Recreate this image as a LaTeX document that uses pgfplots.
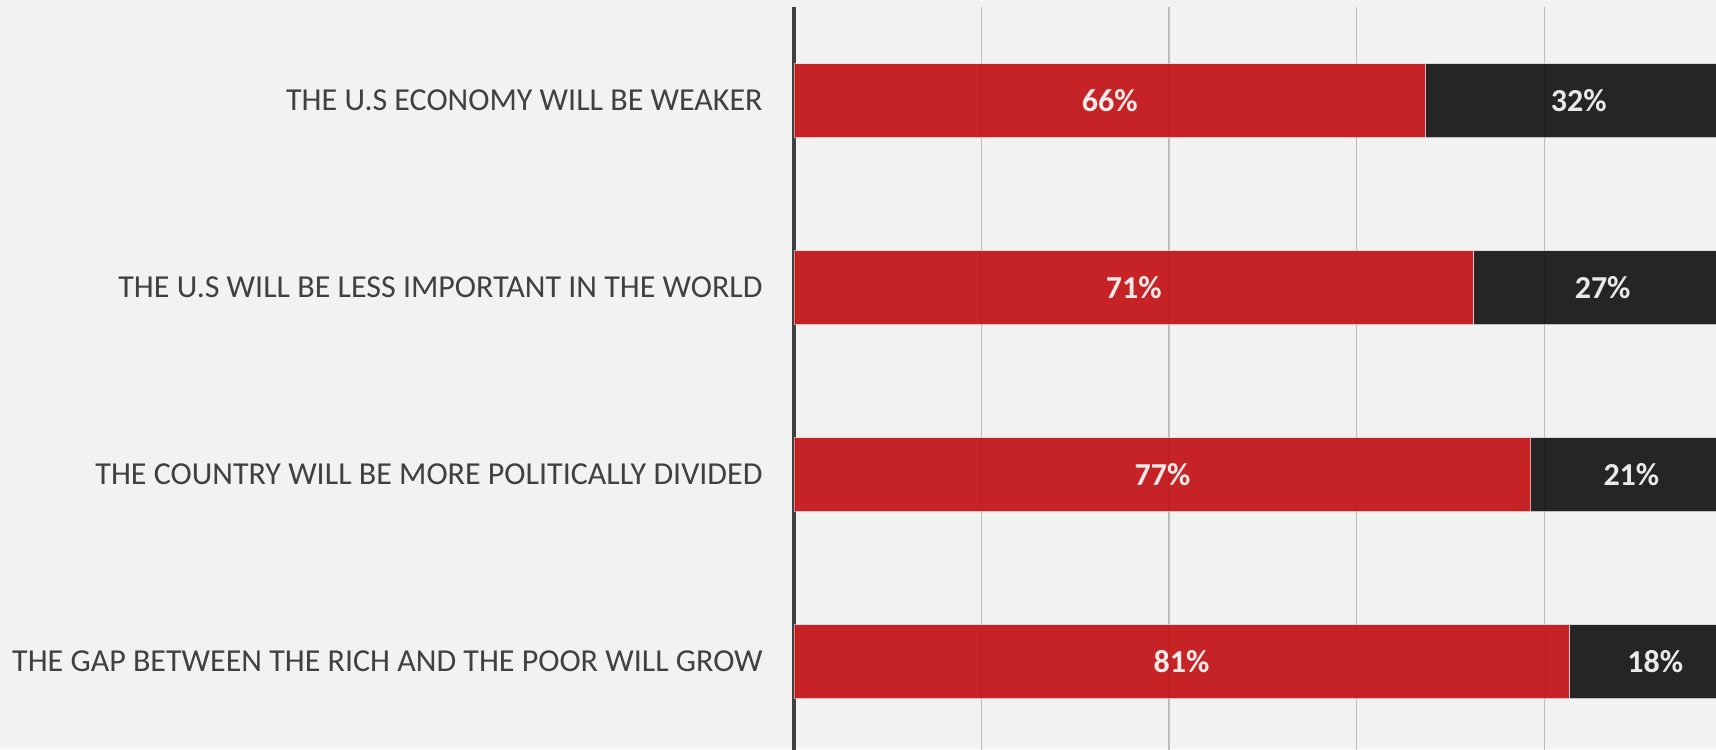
\documentclass[border=0pt]{standalone}
\usepackage{pgfplots}
\pgfplotsset{compat=1.18}
\usepackage{fontspec}
\setmainfont{Carlito}
\definecolor{bg}{HTML}{F2F2F2}
\definecolor{barred}{RGB}{193,13,15}
\definecolor{barblack}{RGB}{15,15,15}
\definecolor{gridc}{HTML}{BCBCBC}
\definecolor{labc}{HTML}{404040}
\begin{document}
\begin{tikzpicture}[x=1pt,y=1pt]
\path[fill=bg, use as bounding box] (0,0) rectangle (858,374.5);
\clip (0,0) rectangle (858,374.5);
\begin{axis}[
  at={(397pt,-3pt)}, anchor=south west,
  scale only axis, width=478.5pt, height=374pt,
  xbar stacked, bar width=37pt,
  xmin=0, xmax=100, ymin=-0.5, ymax=3.5, y dir=reverse,
  ytick={0,1,2,3},
  yticklabels={THE U.S ECONOMY WILL BE WEAKER, THE U.S WILL BE LESS IMPORTANT IN THE WORLD, THE COUNTRY WILL BE MORE POLITICALLY DIVIDED, THE GAP BETWEEN THE RICH AND THE POOR WILL GROW},
  yticklabel style={font=\fontsize{16}{19}\selectfont, text=labc, inner sep=0pt, xshift=-15.5pt},
  xtick={19.6,39.2,58.8,78.4,98}, xticklabels={},
  major tick length=0pt,
  xmajorgrids, grid style={color=gridc, line width=0.75pt},
  axis x line*=bottom, axis y line*=left,
  x axis line style={draw=none},
  y axis line style={draw=labc, line width=1.9pt, -},
  point meta=rawx,
  /pgf/number format/assume math mode=true,
  nodes near coords={\pgfmathprintnumber{\pgfplotspointmeta}\%},
  every node near coord/.append style={font=\bfseries\fontsize{16}{19}\selectfont, text=white},
]
\addplot[fill=barred, fill opacity=0.9, draw=white, draw opacity=0.55, line width=0.5pt]
  coordinates {(66,0) (71,1) (77,2) (81,3)};
\addplot[fill=barblack, fill opacity=0.9, draw=white, draw opacity=0.55, line width=0.5pt]
  coordinates {(32,0) (27,1) (21,2) (18,3)};
\end{axis}
\end{tikzpicture}
\end{document}
